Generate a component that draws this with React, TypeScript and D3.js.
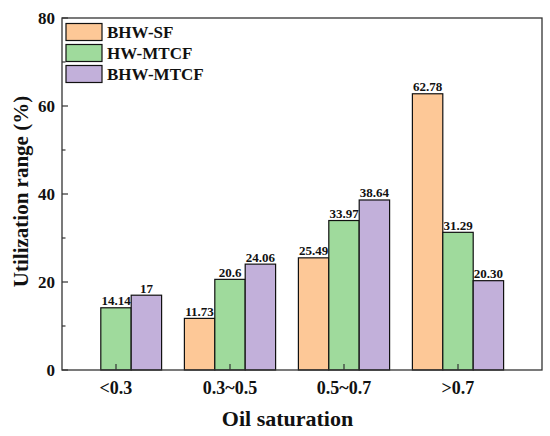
import * as React from "react";
import * as d3 from "d3";

const categories: string[] = ["<0.3", "0.3~0.5", "0.5~0.7", ">0.7"];
const seriesNames: string[] = ["BHW-SF", "HW-MTCF", "BHW-MTCF"];
const bhwSf: (number | null)[] = [null, 11.73, 25.49, 62.78];
const hwMtcf: number[] = [14.14, 20.6, 33.97, 31.29];
const bhwMtcf: number[] = [17, 24.06, 38.64, 20.3];
const valueLabels: string[][] = [
  ["", "11.73", "25.49", "62.78"],
  ["14.14", "20.6", "33.97", "31.29"],
  ["17", "24.06", "38.64", "20.30"]
];
const yTicks: number[] = [0, 20, 40, 60, 80];
const yMinorTicks: number[] = [10, 30, 50, 70];
const colors: string[] = ["#fdc897", "#9fda9c", "#c2b0da"];

const W = 550;
const H = 436;
const plot = { left: 62, right: 542, top: 18, bottom: 370 };
const font = "'Liberation Serif', 'Times New Roman', serif";

export default function App(): JSX.Element {
  const series = [bhwSf, hwMtcf, bhwMtcf];

  const y = d3.scaleLinear().domain([0, 80]).range([plot.bottom, plot.top]);
  const x = d3.scaleBand<string>()
    .domain(categories)
    .range([59, 515])
    .paddingInner(0.2)
    .paddingOuter(0.1);
  const xs = d3.scaleBand<string>()
    .domain(seriesNames)
    .range([0, x.bandwidth()]);

  return (
    <svg width={W} height={H} style={{ position: "absolute", left: 0, top: 0, background: "#fff" }}
         fontFamily={font} fontWeight="bold">
      {/* bars */}
      {series.map((vals, si) => (
        <g key={seriesNames[si]}>
          {categories.map((c, ci) => {
            const v = vals[ci];
            if (v == null) return null;
            const bx = (x(c) as number) + (xs(seriesNames[si]) as number);
            return (
              <g key={c}>
                <rect x={bx} y={y(v)} width={xs.bandwidth()} height={plot.bottom - y(v)}
                      fill={colors[si]} stroke="#111" strokeWidth={1.2} />
                <text x={bx + xs.bandwidth() / 2} y={y(v) - 2.5} textAnchor="middle" fontSize={13} fill="#111">
                  {valueLabels[si][ci]}
                </text>
              </g>
            );
          })}
        </g>
      ))}

      {/* frame */}
      <rect x={plot.left} y={plot.top} width={plot.right - plot.left} height={plot.bottom - plot.top}
            fill="none" stroke="#333" strokeWidth={1.3} />

      {/* y axis ticks */}
      {yTicks.map((t) => (
        <g key={t}>
          <line x1={plot.left} x2={plot.left + 6} y1={y(t)} y2={y(t)} stroke="#333" strokeWidth={1.2} />
          <text x={55} y={y(t)} dy="0.35em" textAnchor="end" fontSize={17} fill="#111">{t}</text>
        </g>
      ))}
      {yMinorTicks.map((t) => (
        <line key={t} x1={plot.left} x2={plot.left + 3.5} y1={y(t)} y2={y(t)} stroke="#333" strokeWidth={1.2} />
      ))}

      {/* x axis ticks */}
      {categories.map((c) => {
        const cx = (x(c) as number) + x.bandwidth() / 2;
        return (
          <g key={c}>
            <line x1={cx} x2={cx} y1={plot.bottom} y2={plot.bottom - 6} stroke="#333" strokeWidth={1.2} />
            <text x={cx} y={393.5} textAnchor="middle" fontSize={18} fill="#111">{c}</text>
          </g>
        );
      })}

      {/* axis titles */}
      <text x={287.5} y={426} textAnchor="middle" fontSize={22} fill="#111">Oil saturation</text>
      <text transform="translate(28,191.5) rotate(-90)" textAnchor="middle" fontSize={21} fill="#111">
        Utilization range (%)
      </text>

      {/* legend */}
      {seriesNames.map((n, i) => (
        <g key={n} transform={`translate(66, ${23.5 + i * 21})`}>
          <rect x={0} y={0} width={36} height={17} fill={colors[i]} stroke="#111" strokeWidth={1.2} />
          <text x={41} y={8.5} dy="0.35em" fontSize={17} fill="#111">{n}</text>
        </g>
      ))}
    </svg>
  );
}
